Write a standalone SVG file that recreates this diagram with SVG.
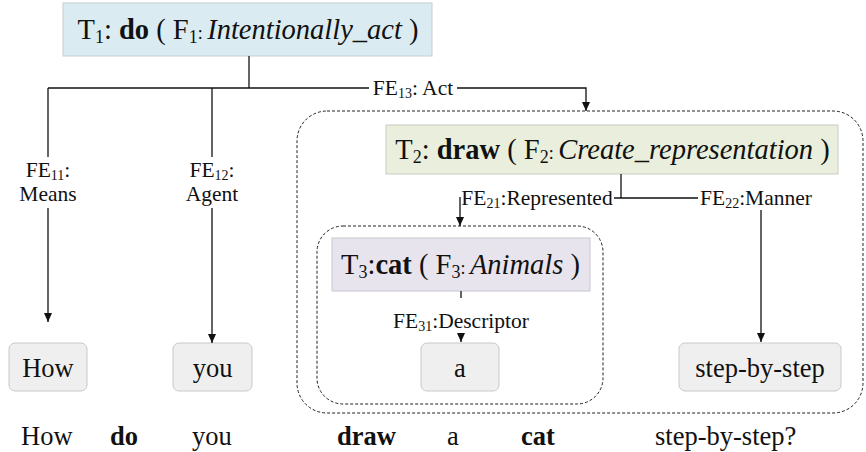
<svg xmlns="http://www.w3.org/2000/svg" width="866" height="452" viewBox="0 0 866 452">
<style>
.dash{fill:none;stroke:#222;stroke-width:1;stroke-dasharray:3 2}
.wbox{fill:#efefef;stroke:#c9c9c9;stroke-width:1}
.ln{fill:none;stroke:#111;stroke-width:1.3}
</style>
<defs>
<marker id="ah" markerUnits="userSpaceOnUse" markerWidth="10" markerHeight="10" refX="9" refY="4" orient="auto">
<path d="M0,0 L9,4 L0,8 z" fill="#111"/>
</marker>
</defs>

<g id="frame-T2">
<rect class="dash" x="297" y="111" width="566" height="302" rx="30"/>
</g>
<g id="frame-T3">
<rect class="dash" x="317" y="226" width="286" height="178" rx="26"/>
</g>

<g id="T1" font-family="Liberation Serif" font-size="28.5" fill="#111">
<rect x="63" y="3" width="369" height="53" fill="#daecf2" stroke="#c4cdd0"/>
<text x="248" y="39" text-anchor="middle">T<tspan font-size="18" dy="4">1</tspan><tspan dy="-4">: </tspan><tspan font-weight="bold">do</tspan> ( F<tspan font-size="18" dy="4">1</tspan><tspan font-size="18" dy="-4">: </tspan><tspan font-style="italic">Intentionally_act</tspan> )</text>
</g>

<g id="T2" font-family="Liberation Serif" font-size="28.5" fill="#111">
<rect x="386" y="125" width="452" height="49" fill="#e9efdc" stroke="#c8ccc0"/>
<text x="612.5" y="159" text-anchor="middle">T<tspan font-size="18" dy="4">2</tspan><tspan dy="-4">: </tspan><tspan font-weight="bold">draw</tspan> ( F<tspan font-size="18" dy="4">2</tspan><tspan font-size="18" dy="-4">: </tspan><tspan font-style="italic">Create_representation</tspan> )</text>
</g>

<g id="T3" font-family="Liberation Serif" font-size="28.5" fill="#111">
<rect x="332" y="238" width="258" height="53" fill="#e8e4ee" stroke="#c9c6cf"/>
<text x="460.5" y="274" text-anchor="middle">T<tspan font-size="18" dy="4">3</tspan><tspan dy="-4">:</tspan><tspan font-weight="bold">cat</tspan> ( F<tspan font-size="18" dy="4">3</tspan><tspan font-size="18" dy="-4">: </tspan><tspan font-style="italic">Animals</tspan> )</text>
</g>

<g id="w-how" font-family="Liberation Serif" font-size="26.5" fill="#111">
<rect class="wbox" x="9" y="343" width="78" height="48" rx="6"/>
<text x="48" y="377" text-anchor="middle">How</text>
</g>
<g id="w-you" font-family="Liberation Serif" font-size="26.5" fill="#111">
<rect class="wbox" x="173" y="343" width="79" height="48" rx="6"/>
<text x="212.5" y="377" text-anchor="middle">you</text>
</g>
<g id="w-a" font-family="Liberation Serif" font-size="26.5" fill="#111">
<rect class="wbox" x="421" y="343" width="78" height="48" rx="6"/>
<text x="460" y="377" text-anchor="middle">a</text>
</g>
<g id="w-step" font-family="Liberation Serif" font-size="26.5" fill="#111">
<rect class="wbox" x="679" y="343" width="162" height="48" rx="6"/>
<text x="760" y="377" text-anchor="middle">step-by-step</text>
</g>

<g id="connectors">
<path class="ln" d="M249,56 V88"/>
<path class="ln" d="M48,88 H369"/>
<path class="ln" d="M457,88 H586 V111" marker-end="url(#ah)"/>
<path class="ln" d="M48,88 V157"/>
<path class="ln" d="M48,208 V322" marker-end="url(#ah)"/>
<path class="ln" d="M212,88 V157"/>
<path class="ln" d="M212,208 V343" marker-end="url(#ah)"/>
<path class="ln" d="M621,174 V198"/>
<path class="ln" d="M614,198 H698"/>
<path class="ln" d="M460,197 V226" marker-end="url(#ah)"/>
<path class="ln" d="M761,210 V342" marker-end="url(#ah)"/>
<path class="ln" d="M461,291 V298"/>
<path class="ln" d="M461,334 V342" marker-end="url(#ah)"/>
<g id="fe-labels" font-family="Liberation Serif" font-size="21.5" fill="#111" text-anchor="middle">
<text x="413" y="95">FE<tspan font-size="14" dy="3">13</tspan><tspan dy="-3">: Act</tspan></text>
<text x="48" y="177">FE<tspan font-size="14" dy="3">11</tspan><tspan dy="-3">:</tspan></text>
<text x="48" y="201">Means</text>
<text x="212" y="177">FE<tspan font-size="14" dy="3">12</tspan><tspan dy="-3">:</tspan></text>
<text x="212" y="201">Agent</text>
<text x="537" y="205">FE<tspan font-size="14" dy="3">21</tspan><tspan dy="-3">:Represented</tspan></text>
<text x="756" y="205">FE<tspan font-size="14" dy="3">22</tspan><tspan dy="-3">:Manner</tspan></text>
<text x="461" y="328">FE<tspan font-size="14" dy="3">31</tspan><tspan dy="-3">:Descriptor</tspan></text>
</g>
</g>

<g id="sentence" font-family="Liberation Serif" font-size="26.5" fill="#111">
<text x="21" y="445">How</text>
<text x="110" y="445" font-weight="bold">do</text>
<text x="192" y="445">you</text>
<text x="337" y="445" font-weight="bold">draw</text>
<text x="447" y="445">a</text>
<text x="521" y="445" font-weight="bold">cat</text>
<text x="655" y="445">step-by-step?</text>
</g>
</svg>
